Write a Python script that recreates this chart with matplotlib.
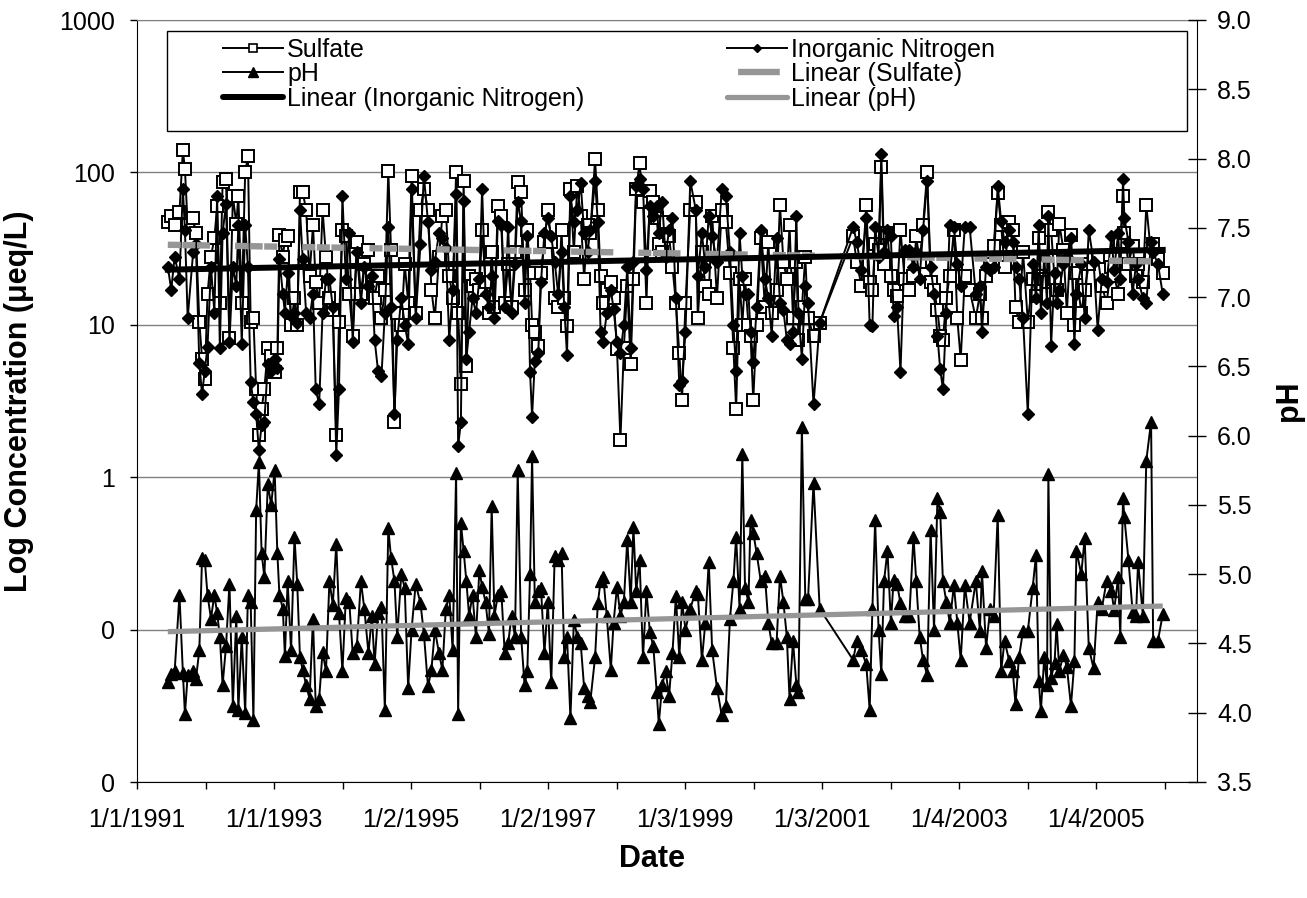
import datetime as dt

import matplotlib
matplotlib.use("Agg")
import matplotlib.pyplot as plt
import matplotlib.dates as mdates
from matplotlib.lines import Line2D
from matplotlib.patches import Rectangle
from matplotlib.ticker import FixedLocator, NullLocator

plt.rcParams['font.family'] = ['Liberation Sans', 'DejaVu Sans']
plt.rcParams['lines.scale_dashes'] = False

# sampling dates (decimal years)
sample_year = [
    1991.45, 1991.50, 1991.55, 1991.62, 1991.67, 1991.70, 1991.74, 1991.82, 1991.86, 1991.91,
    1991.95, 1991.99, 1992.03, 1992.08, 1992.13, 1992.17, 1992.21, 1992.25, 1992.30, 1992.35,
    1992.40, 1992.45, 1992.48, 1992.53, 1992.58, 1992.62, 1992.66, 1992.70, 1992.74, 1992.78,
    1992.82, 1992.86, 1992.91, 1992.96, 1993.01, 1993.05, 1993.08, 1993.13, 1993.16, 1993.20,
    1993.25, 1993.30, 1993.34, 1993.38, 1993.42, 1993.47, 1993.52, 1993.57, 1993.61, 1993.66,
    1993.71, 1993.76, 1993.81, 1993.86, 1993.91, 1993.95, 1994.00, 1994.05, 1994.10, 1994.15,
    1994.21, 1994.27, 1994.32, 1994.38, 1994.43, 1994.47, 1994.52, 1994.57, 1994.62, 1994.67,
    1994.71, 1994.76, 1994.80, 1994.86, 1994.91, 1994.96, 1995.01, 1995.07,
    1995.14, 1995.19, 1995.25, 1995.30, 1995.35, 1995.41, 1995.46, 1995.51, 1995.56, 1995.61,
    1995.66, 1995.69, 1995.73, 1995.77, 1995.81, 1995.85, 1995.90, 1995.95, 1996.00, 1996.04,
    1996.09, 1996.14, 1996.18, 1996.22, 1996.27, 1996.32, 1996.37, 1996.42, 1996.47, 1996.52,
    1996.56, 1996.61, 1996.66, 1996.70, 1996.74, 1996.77, 1996.81, 1996.86, 1996.90, 1996.95,
    1997.00, 1997.05, 1997.10, 1997.15, 1997.20, 1997.24, 1997.28, 1997.33, 1997.38, 1997.43,
    1997.48, 1997.53, 1997.58, 1997.62, 1997.69, 1997.73, 1997.77, 1997.81, 1997.86, 1997.92,
    1997.96, 1998.01, 1998.06, 1998.11, 1998.16, 1998.21, 1998.25, 1998.29, 1998.34, 1998.39,
    1998.44, 1998.49, 1998.54, 1998.59, 1998.62, 1998.67, 1998.72, 1998.77, 1998.82, 1998.87,
    1998.92, 1998.96, 1999.01, 1999.08, 1999.16,
    1999.19, 1999.25, 1999.30, 1999.35, 1999.40, 1999.47, 1999.54, 1999.60, 1999.66, 1999.71,
    1999.75, 1999.80, 1999.84, 1999.88, 1999.93, 1999.96, 2000.00, 2000.05, 2000.11, 2000.17,
    2000.22, 2000.27, 2000.34, 2000.39, 2000.44, 2000.49, 2000.53, 2000.58, 2000.63, 2000.66,
    2000.71, 2000.76, 2000.80, 2000.88, 2000.97, 2001.46, 2001.51, 2001.58, 2001.65, 2001.70,
    2001.74, 2001.78, 2001.83, 2001.87, 2001.91, 2001.96, 2002.01, 2002.05, 2002.10, 2002.15,
    2002.21, 2002.28, 2002.34, 2002.38, 2002.43, 2002.48, 2002.54, 2002.59, 2002.64, 2002.69,
    2002.73, 2002.77, 2002.82, 2002.87, 2002.93, 2002.98, 2003.03, 2003.09, 2003.16, 2003.25,
    2003.31, 2003.34, 2003.40, 2003.46, 2003.51, 2003.57, 2003.62, 2003.67, 2003.74, 2003.79,
    2003.83, 2003.88, 2003.94, 2004.01, 2004.08, 2004.13, 2004.17, 2004.20, 2004.25, 2004.29,
    2004.31, 2004.35, 2004.40, 2004.43, 2004.47, 2004.53, 2004.58, 2004.64, 2004.69, 2004.72,
    2004.79, 2004.84, 2004.90, 2004.97, 2005.03, 2005.09, 2005.16, 2005.23, 2005.27, 2005.33,
    2005.36, 2005.40, 2005.42, 2005.48, 2005.54, 2005.59, 2005.62, 2005.69, 2005.74, 2005.81,
    2005.84, 2005.91, 2005.98,
]

# sulfate, ueq/L
sulfate = [
    47, 52, 45, 55, 140, 105, 45, 50, 40, 10.5,
    6.0, 4.4, 16, 28, 37, 60, 14, 86, 90, 8.2,
    70, 46, 70, 14, 100, 128, 10.5, 11, 3.8, 1.9,
    2.8, 3.8, 7.0, 6.2, 4.9, 7.0, 39, 28, 36, 38,
    10, 15, 10, 74, 74, 57, 21, 45, 19, 14,
    57, 28, 15, 12.5, 1.9, 10.5, 42, 38, 16, 8.5,
    35, 16, 25, 31, 21, 15, 21, 11, 17, 102,
    31, 2.3, 12, 10, 25, 14, 95, 12,
    57, 78, 57, 17, 11, 28, 52, 57, 21, 15,
    100, 12, 4.1, 88, 5.4, 21, 18, 20, 17, 42,
    19, 12, 30, 13, 60, 52, 14, 25, 13, 30,
    86, 74, 17, 42, 22, 10, 9.0, 7.3, 22, 35,
    57, 35, 15, 13, 42, 15, 9.8, 78, 30, 82,
    52, 20, 45, 40, 122, 57, 21, 14, 17, 19,
    15, 6.9, 1.75, 7.0, 18, 5.5, 20, 78, 115, 64,
    14, 75, 64, 50, 34, 30, 47, 38, 24, 14,
    6.5, 3.2, 14, 57, 64,
    11, 30, 18, 16, 52, 15, 57, 47, 22, 7.0,
    2.8, 20, 10, 20, 10, 8.5, 3.2, 10, 37, 13,
    35, 12, 17, 61, 26, 20, 45, 11, 26, 8.0,
    13, 28, 11, 8.5, 10.3, 38, 26, 18, 61, 19,
    17, 34, 31, 108, 25, 40, 21, 17, 15.5, 42,
    20, 17, 21, 38, 26, 45, 100, 19, 17, 12.5,
    8.5, 8.0, 15, 21, 42, 11, 5.9, 21, 17, 11,
    16, 11, 21, 25, 33, 73, 45, 24, 47, 42,
    13, 10.5, 30, 10.5, 20, 15.5, 37, 21, 20, 19,
    55, 42, 20, 17, 46, 31, 12, 39, 10, 22,
    12, 17, 25, 28, 28, 18, 14, 24, 21, 16,
    35, 70, 40, 25, 33, 21, 25, 19, 61, 29,
    34, 27, 22,
]

# inorganic nitrogen, ueq/L
nitrogen = [
    24, 17, 28, 20, 78, 42, 11, 30, 34, 5.6,
    3.5, 5.0, 7.2, 24, 12, 70, 7.0, 40, 62, 7.7,
    24, 18, 45, 7.5, 45, 24, 4.2, 3.1, 2.6, 1.5,
    2.2, 2.3, 5.5, 5.0, 6.0, 5.2, 27, 16, 12, 22,
    11.5, 12, 10.2, 57, 27, 12, 11, 16, 3.8, 3.0,
    12, 20, 20, 13, 1.4, 3.8, 70, 20, 40, 7.7,
    30, 14, 24, 18, 21, 8.0, 5.0, 4.6, 12, 44,
    13, 2.6, 8.0, 15, 10, 7.5, 78, 11,
    34, 95, 47, 23, 26, 40, 37, 32, 8.0, 17,
    72, 1.6, 2.3, 65, 6.0, 9.0, 15, 12, 20, 78,
    16, 13, 21, 11, 48, 45, 13, 44, 12, 25,
    64, 48, 14, 38, 4.9, 2.5, 5.8, 6.5, 19, 40,
    50, 38, 26, 16, 30, 13, 6.3, 70, 47, 57,
    85, 40, 30, 42, 88, 47, 9.0, 7.7, 12, 17,
    12.7, 7.7, 6.5, 10, 24, 7.0, 26, 82, 90, 78,
    23, 60, 52, 60, 40, 64, 28, 42, 50, 15,
    4.0, 4.3, 9.0, 88, 57,
    21, 40, 24, 52, 38, 26, 78, 70, 30, 10,
    5.0, 40, 21, 16, 16, 9.0, 5.7, 13, 42, 20,
    15, 8.5, 37, 14, 12.5, 8.0, 7.5, 9.0, 52, 12,
    6.0, 18, 14, 3.0, 10.3, 44, 35, 23, 50, 10,
    9.8, 44, 28, 132, 30, 42, 38, 11.5, 13, 4.9,
    31, 31, 24, 30, 20, 42, 88, 24, 16, 8.5,
    5.1, 3.8, 12, 45, 44, 25, 18, 44, 44, 16,
    18, 9.0, 24, 23, 24, 82, 48, 35, 42, 35,
    24, 20, 11, 2.6, 25, 15, 45, 12, 28, 14,
    52, 7.3, 22, 14, 17, 25, 28, 37, 7.5, 16,
    25, 11, 42, 26, 9.3, 20, 19, 38, 23, 40,
    20, 90, 50, 35, 16, 25, 20, 15, 14, 35,
    30, 25, 16,
]

# precipitation pH
ph = [
    4.22, 4.28, 4.30, 4.85, 4.29, 3.99, 4.27, 4.30, 4.24, 4.45,
    5.12, 5.10, 4.85, 4.68, 4.85, 4.72, 4.55, 4.20, 4.48, 4.93,
    4.05, 4.70, 4.02, 4.55, 4.00, 4.85, 4.80, 3.95, 5.46, 5.81,
    5.15, 4.98, 5.65, 5.50, 5.75, 5.15, 4.85, 4.75, 4.41, 4.95,
    4.45, 5.27, 4.93, 4.40, 4.31, 4.20, 4.10, 4.68, 4.05, 4.10,
    4.44, 4.30, 4.95, 4.78, 5.22, 4.72, 4.30, 4.83, 4.80, 4.43,
    4.48, 4.95, 4.75, 4.43, 4.70, 4.35, 4.72, 4.76, 4.02, 5.33,
    5.12, 4.95, 4.55, 5.00, 4.90, 4.18, 4.60, 4.93,
    4.79, 4.57, 4.19, 4.31, 4.60, 4.43, 4.31, 4.75, 4.85, 4.45,
    5.73, 3.99, 5.37, 5.17, 4.95, 4.70, 4.85, 4.55, 5.03, 4.91,
    4.80, 4.57, 5.49, 4.70, 4.85, 4.88, 4.43, 4.50, 4.70, 4.55,
    5.75, 4.55, 4.20, 4.30, 5.00, 5.85, 4.80, 4.88, 4.90, 4.43,
    4.80, 4.22, 5.13, 5.10, 5.15, 4.40, 4.55, 3.96, 4.67, 4.55,
    4.50, 4.18, 4.12, 4.08, 4.40, 4.79, 4.95, 4.98, 4.70, 4.31,
    4.65, 4.91, 4.70, 4.80, 5.25, 4.80, 5.34, 4.88, 5.10, 4.40,
    4.88, 4.58, 4.48, 4.15, 3.92, 4.20, 4.30, 4.12, 4.43, 4.84,
    4.40, 4.80, 4.60, 4.75, 4.88,
    4.86, 4.38, 4.65, 5.09, 4.45, 4.18, 3.98, 4.05, 4.68, 4.95,
    5.27, 4.75, 5.87, 4.90, 4.80, 5.39, 5.30, 5.15, 4.95, 4.99,
    4.65, 4.50, 4.50, 4.99, 4.80, 4.55, 4.10, 4.52, 4.20, 4.15,
    6.06, 4.82, 4.82, 5.66, 4.75, 4.38, 4.52, 4.45, 4.35, 4.02,
    4.75, 5.39, 4.60, 4.28, 4.95, 5.17, 4.65, 4.96, 4.93, 4.79,
    4.70, 4.70, 5.27, 4.95, 4.55, 4.38, 4.27, 5.32, 4.60, 5.55,
    5.45, 4.95, 4.80, 4.65, 4.92, 4.65, 4.38, 4.92, 4.65, 4.95,
    4.59, 5.02, 4.47, 4.75, 4.70, 5.43, 4.30, 4.52, 4.37, 4.30,
    4.06, 4.40, 4.59, 4.59, 4.90, 5.14, 4.23, 4.01, 4.40, 4.20,
    5.72, 4.25, 4.36, 4.64, 4.30, 4.42, 4.33, 4.05, 4.37, 5.17,
    5.00, 5.26, 4.47, 4.32, 4.80, 4.75, 4.95, 4.88, 4.74, 4.98,
    4.55, 5.55, 5.41, 5.10, 4.73, 4.70, 5.09, 4.70, 5.82, 6.10,
    4.52, 4.52, 4.71,
]

# linear trend values at the first and last sample
sulfate_trend = [33.5, 26.0]
nitrogen_trend = [23.0, 31.0]
ph_trend = [4.585, 4.77]

axis_start = dt.datetime(1991, 1, 1)
start_num = mdates.date2num(axis_start)


def year_to_num(y):
    return start_num + (y - 1991.0) * 365.25


x = [year_to_num(y) for y in sample_year]
x_trend = [x[0], x[-1]]

FS = 18
FS_TITLE = 22
GRAY = '#969696'

fig = plt.figure(figsize=(13.07, 8.98), dpi=100)
ax = fig.add_axes([137 / 1307, 116 / 898, 1060 / 1307, 762 / 898])
ax2 = ax.twinx()

# concentrations on the log axis
ax.plot(x, sulfate, color='black', lw=1.4, marker='s', ms=8.5,
        mfc='white', mec='black', mew=1.4, zorder=3)
ax.plot(x, nitrogen, color='black', lw=1.4, marker='D', ms=6,
        mfc='black', mec='black', zorder=4)
ax.plot(x_trend, sulfate_trend, color=GRAY, lw=4.6,
        dashes=(9.4, 1.1, 9.4, 1.1, 9.4, 18), dash_capstyle='butt', zorder=5)
ax.plot(x_trend, nitrogen_trend, color='black', lw=4.3, zorder=6)

# pH on the secondary axis
ax2.plot(x, ph, color='black', lw=1.4, marker='^', ms=8.5,
         mfc='black', mec='black', zorder=3)
ax2.plot(x_trend, ph_trend, color=GRAY, lw=3.8, solid_capstyle='butt', zorder=5)

ax.set_yscale('log')
ax.set_ylim(0.01, 1000)
ax.yaxis.set_major_locator(FixedLocator([0.01, 0.1, 1, 10, 100, 1000]))
ax.yaxis.set_minor_locator(NullLocator())
ax.set_yticklabels(['0', '0', '1', '10', '100', '1000'])
ax.yaxis.grid(True, color='#808080', lw=1.0)
ax.set_axisbelow(True)

ax2.set_ylim(3.5, 9.0)
ph_ticks = [3.5 + 0.5 * i for i in range(12)]
ax2.set_yticks(ph_ticks)
ax2.set_yticklabels([f'{t:.1f}' for t in ph_ticks])

# date axis: tick every 365.5 days, label every second one
x_end = start_num + 15.47 * 365.5
ax.set_xlim(start_num, x_end)
tick_nums = [start_num + 365.5 * k for k in range(16)]
tick_labels = []
for k, t in enumerate(tick_nums):
    d = mdates.num2date(t)
    tick_labels.append(f'{d.month}/{d.day}/{d.year}' if k % 2 == 0 else '')
ax.set_xticks(tick_nums)
ax.set_xticklabels(tick_labels)

ax.tick_params(axis='y', direction='out', length=5, width=1, pad=11,
               labelsize=FS, colors='black')
ax.tick_params(axis='x', direction='out', length=5, width=1, pad=14,
               labelsize=FS)
ax2.tick_params(axis='y', direction='inout', length=13, width=1, pad=8,
                labelsize=FS)

for side in ('left', 'bottom'):
    ax.spines[side].set_color('black')
ax.spines['top'].set_color('#808080')
ax.spines['right'].set_visible(False)
for side in ('left', 'top', 'bottom'):
    ax2.spines[side].set_visible(False)
ax2.spines['right'].set_color('black')

ax.set_ylabel('Log Concentration (μeq/L)', fontsize=FS_TITLE, fontweight='bold')
ax.yaxis.set_label_coords(-0.097, 0.5)
ax.set_xlabel('Date', fontsize=FS_TITLE, fontweight='bold')
ax.xaxis.set_label_coords(0.486, -0.082)
ax2.set_ylabel('pH', fontsize=FS_TITLE, fontweight='bold')
ax2.yaxis.set_label_coords(1.073, 0.5)

# legend: framed box with two columns of entries
frame = Rectangle((0.0283, 0.8543), 0.9623, 0.1313, transform=ax2.transAxes,
                  facecolor='white', edgecolor='black', lw=1.0, zorder=8)
ax2.add_patch(frame)

h_sulfate = Line2D([], [], color='black', lw=1.4, marker='s', ms=6,
                   mfc='white', mec='black', mew=1.2)
h_nitrogen = Line2D([], [], color='black', lw=1.4, marker='D', ms=4.5,
                    mfc='black', mec='black')
h_ph = Line2D([], [], color='black', lw=1.4, marker='^', ms=6.5,
              mfc='black', mec='black')
h_sulfate_trend = Line2D([], [], color=GRAY, lw=4.6,
                         linestyle=(38, (30, 16)), dash_capstyle='butt')
h_nitrogen_trend = Line2D([], [], color='black', lw=4.3, solid_capstyle='round')
h_ph_trend = Line2D([], [], color=GRAY, lw=3.8, solid_capstyle='round')

legend_kw = dict(loc='upper left', frameon=False, fontsize=FS, borderpad=0,
                 borderaxespad=0, handlelength=2.42, handletextpad=0.15,
                 labelspacing=0.02, numpoints=1)
leg1 = ax2.legend([h_sulfate, h_ph, h_nitrogen_trend],
                  ['Sulfate', 'pH', 'Linear (Inorganic Nitrogen)'],
                  bbox_to_anchor=(0.0811, 0.977), **legend_kw)
leg1.set_zorder(9)
ax2.add_artist(leg1)
leg2 = ax2.legend([h_nitrogen, h_sulfate_trend, h_ph_trend],
                  ['Inorganic Nitrogen', 'Linear (Sulfate)', 'Linear (pH)'],
                  bbox_to_anchor=(0.5566, 0.977), **legend_kw)
leg2.set_zorder(9)

fig.savefig('out.png', dpi=100)
